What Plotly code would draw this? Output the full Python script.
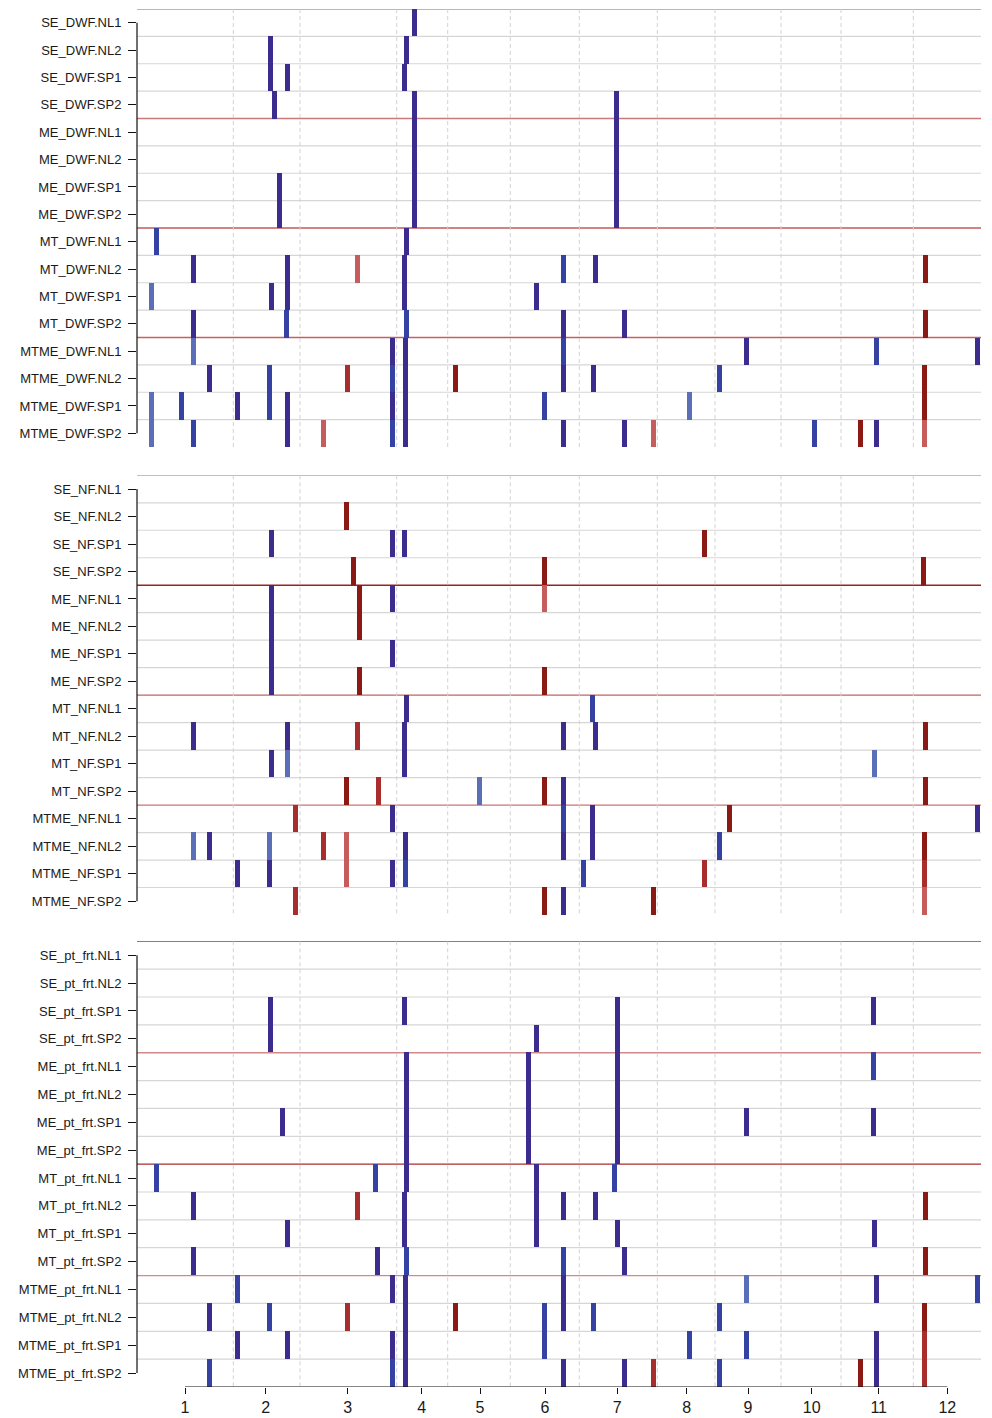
import plotly.graph_objects as go

# row layout: 4 groups x 4 sub-rows, one panel per trait
GROUPS = ["SE", "ME", "MT", "MTME"]
SUBROWS = ["NL1", "NL2", "SP1", "SP2"]
TRAITS = ["DWF", "NF", "pt_frt"]

# x axis: tick labels, their positions and the dashed separators
X_TICK_TEXT = ["1", "2", "3", "4", "5", "6", "7", "8", "9", "10", "11", "12"]
X_TICK_POS = [48, 128.7, 210.7, 284.7, 343, 408, 480.3, 549.7, 611, 674.7, 741.7, 810.3]
X_BOUNDS = [96.3, 163, 259.7, 310.7, 373.3, 442.3, 520.3, 578, 644, 704, 776.3]
X_RANGE = [0, 844]

# mark positions per row (16 rows per panel) and their level (-3 dark blue .. +3 dark red)
DWF_POS = [
    [277],
    [133.5, 269.5],
    [133.5, 150.5, 267],
    [137.5, 277, 479.5],
    [277, 479.5],
    [277, 479.5],
    [142.3, 277, 479.5],
    [142.3, 277, 479.5],
    [19, 269],
    [56, 150.5, 220.7, 267, 426.3, 458.7, 788.7],
    [14.5, 134, 150.5, 267.5, 399.2],
    [56, 149, 269.5, 426.3, 487.3, 788.7],
    [56, 255, 268.8, 426.3, 609, 739.5, 840],
    [72, 132.5, 210, 255, 268.8, 318.3, 426.3, 456.2, 582.3, 787.7],
    [14.5, 44.5, 100.5, 132.5, 150.5, 255, 268.8, 407.7, 552, 787.7],
    [14.5, 56, 150.5, 186.3, 255, 268.8, 426.3, 487.3, 516, 677.7, 723, 739.5, 787.7],
]
DWF_LEVEL = [
    [-3],
    [-3, -3],
    [-3, -3, -3],
    [-3, -3, -3],
    [-3, -3],
    [-3, -3],
    [-3, -3, -3],
    [-3, -3, -3],
    [-2, -3],
    [-3, -3, 1, -3, -2, -3, 3],
    [-1, -3, -3, -3, -3],
    [-3, -2, -2, -3, -3, 3],
    [-1, -3, -3, -2, -3, -2, -3],
    [-3, -2, 2, -2, -3, 3, -3, -3, -2, 3],
    [-1, -2, -3, -2, -3, -3, -3, -2, -1, 3],
    [-1, -2, -3, 1, -2, -3, -3, -3, 1, -2, 3, -3, 1],
]

NF_POS = [
    [],
    [209.5],
    [134, 255.5, 267.5, 567.7],
    [216, 407.5, 786.7],
    [134, 222, 255.5, 407.5],
    [134, 222],
    [134, 255.5],
    [134, 222, 407.5],
    [269.5, 455.7],
    [56, 150.5, 220.7, 267, 426.3, 458.7, 788.7],
    [134, 150.5, 267.5, 737.2],
    [209.5, 241.3, 342.7, 407.5, 426.3, 788.7],
    [158.5, 255, 426.3, 455.7, 592.5, 840],
    [56, 72, 132.5, 186.3, 209.7, 268.8, 426.3, 455.7, 582.3, 787.7],
    [100.5, 132.5, 209.7, 255, 268.8, 446.7, 567.2, 787.7],
    [158.5, 407.5, 426.3, 516, 787.7],
]
NF_LEVEL = [
    [],
    [3],
    [-3, -3, -3, 3],
    [3, 3, 3],
    [-3, 3, -3, 1],
    [-3, 3],
    [-3, -3],
    [-3, 3, 3],
    [-3, -2],
    [-3, -3, 2, -3, -3, -3, 3],
    [-3, -1, -3, -1],
    [3, 2, -1, 3, -3, 3],
    [2, -3, -2, -3, 3, -3],
    [-1, -3, -1, 2, 1, -3, -3, -3, -2, 3],
    [-3, -3, 1, -3, -2, -2, 2, 2],
    [2, 3, -3, 3, 1],
]

PTFRT_POS = [
    [],
    [],
    [133.5, 267, 480.2, 736],
    [133.5, 399.5, 480.2],
    [269.3, 391.7, 480.2, 736],
    [269.3, 391.7, 480.2],
    [145, 269.3, 391.7, 480.2, 609.3, 736],
    [269.3, 391.7, 480.2],
    [19, 238, 269.5, 399.5, 477.3],
    [56, 220.7, 267, 399.5, 426.3, 458.7, 788.7],
    [150.5, 267.5, 399.5, 480.2, 737.2],
    [56, 240.8, 269.5, 426.3, 487.3, 788.7],
    [100.5, 255, 268.8, 426.3, 609.3, 739.5, 840],
    [72, 132.5, 210, 268.8, 318.3, 407.7, 426.3, 456.2, 582.3, 787.7],
    [100.5, 150.5, 255, 268.8, 407.7, 552, 609.3, 739.5, 787.7],
    [72, 255, 268.8, 426.3, 487.3, 516, 582.3, 723, 739.5, 787.7],
]
PTFRT_LEVEL = [
    [],
    [],
    [-3, -3, -3, -3],
    [-3, -3, -3],
    [-3, -3, -3, -2],
    [-3, -3, -3],
    [-3, -3, -3, -3, -3, -3],
    [-3, -3, -3],
    [-2, -2, -3, -3, -2],
    [-3, 2, -3, -3, -3, -3, 3],
    [-3, -3, -3, -3, -3],
    [-3, -3, -2, -2, -3, 3],
    [-2, -3, -3, -3, -1, -3, -2],
    [-3, -2, 2, -3, 3, -2, -3, -2, -2, 3],
    [-3, -3, -3, -3, -2, -2, -2, -3, 2],
    [-2, -2, -3, -3, -3, 2, -2, 3, -3, 2],
]

PANELS = [(DWF_POS, DWF_LEVEL), (NF_POS, NF_LEVEL), (PTFRT_POS, PTFRT_LEVEL)]

LEVEL_COLORS = {
    -3: "#3b2c8e",
    -2: "#3443a3",
    -1: "#5a6fb8",
    1: "#c65d5d",
    2: "#a82e2e",
    3: "#8a1a13",
}
# group separator colours: top, after SE, after ME, after MT
SEP_COLORS = [
    ["#d08a8a", "#c97a7a", "#c05a5a", "#c56060"],
    ["#d49a9a", "#9b2222", "#c06565", "#c87575"],
    ["#a83535", "#d08a8a", "#a82c2c", "#d08a8a"],
]
GRID_GRAY = "#d6d6d6"
DASH_GRAY = "#d2d2d2"
FONT = "Liberation Sans, Arial, Helvetica, sans-serif"
TXT = "#1a1a1a"

# the page body adds an 8px offset, so the figure is laid out 8px up/left
W, H = 984, 1410
PANEL_PX = [(1, 439), (467.3, 907), (933.3, 1379)]
MARK_W = 5

fig = go.Figure()
shapes = []
n_rows = len(GROUPS) * len(SUBROWS)

for p, (pos_rows, lev_rows) in enumerate(PANELS):
    yname = "y" if p == 0 else f"y{p + 1}"
    for lev, col in LEVEL_COLORS.items():
        xs, bases = [], []
        for r, (prow, lrow) in enumerate(zip(pos_rows, lev_rows)):
            for xv, lv in zip(prow, lrow):
                if lv == lev:
                    xs.append(xv)
                    bases.append(r - 0.5)
        if not xs:
            continue
        fig.add_trace(go.Bar(
            x=xs, y=[1] * len(xs), base=bases, width=MARK_W,
            marker=dict(color=col, line=dict(width=0)),
            xaxis="x", yaxis=yname, showlegend=False, hoverinfo="skip",
        ))

    # dashed column separators
    for b in X_BOUNDS:
        shapes.append(dict(type="line", xref="x", yref=yname, x0=b, x1=b, y0=-0.5, y1=n_rows - 0.5,
                           line=dict(color=DASH_GRAY, width=1, dash="4px,3px"), layer="below"))
    # row lines
    for k in range(n_rows):
        yv = k - 0.5
        if k % 4 == 0:
            col, w = SEP_COLORS[p][k // 4], 1.3
        else:
            col, w = GRID_GRAY, 1.2
        shapes.append(dict(type="line", xref="paper", yref=yname, x0=0, x1=1, y0=yv, y1=yv,
                           line=dict(color=col, width=w), layer="below"))
    # R-style y axis line from first to last tick
    shapes.append(dict(type="line", xref="paper", yref=yname, x0=0, x1=0, y0=0, y1=n_rows - 1,
                       line=dict(color="#111111", width=1.2)))

# R-style x axis line from first to last tick
shapes.append(dict(type="line", xref="x", yref="y3", x0=X_TICK_POS[0], x1=X_TICK_POS[-1],
                   y0=n_rows - 0.5, y1=n_rows - 0.5, line=dict(color="#111111", width=1.2)))

layout = dict(
    width=W, height=H,
    margin=dict(l=129, r=11, t=0, b=0),
    plot_bgcolor="white", paper_bgcolor="white",
    barmode="overlay", bargap=0,
    font=dict(family=FONT, color=TXT),
    shapes=shapes,
    xaxis=dict(range=X_RANGE, anchor="y3", tickmode="array", tickvals=X_TICK_POS, ticktext=X_TICK_TEXT,
               ticks="outside", ticklen=6, tickwidth=1.2, tickcolor="#111111",
               showgrid=False, zeroline=False, showline=False,
               tickfont=dict(size=16, family=FONT, color=TXT), automargin=False),
)
for p, trait in enumerate(TRAITS):
    top, bot = PANEL_PX[p]
    labels = [f"{g}_{trait}.{s}" for g in GROUPS for s in SUBROWS]
    key = "yaxis" if p == 0 else f"yaxis{p + 1}"
    layout[key] = dict(
        domain=[1 - bot / H, 1 - top / H], anchor="x",
        range=[n_rows - 0.5, -0.5], tickmode="array", tickvals=list(range(n_rows)), ticktext=labels,
        ticks="outside", ticklen=8, tickwidth=1.2, tickcolor="#111111",
        showgrid=False, zeroline=False, showline=False, automargin=False,
        tickfont=dict(size=13, family=FONT, color=TXT), ticklabelstandoff=4,
    )

fig.update_layout(**layout)
fig.write_html("out.html")
